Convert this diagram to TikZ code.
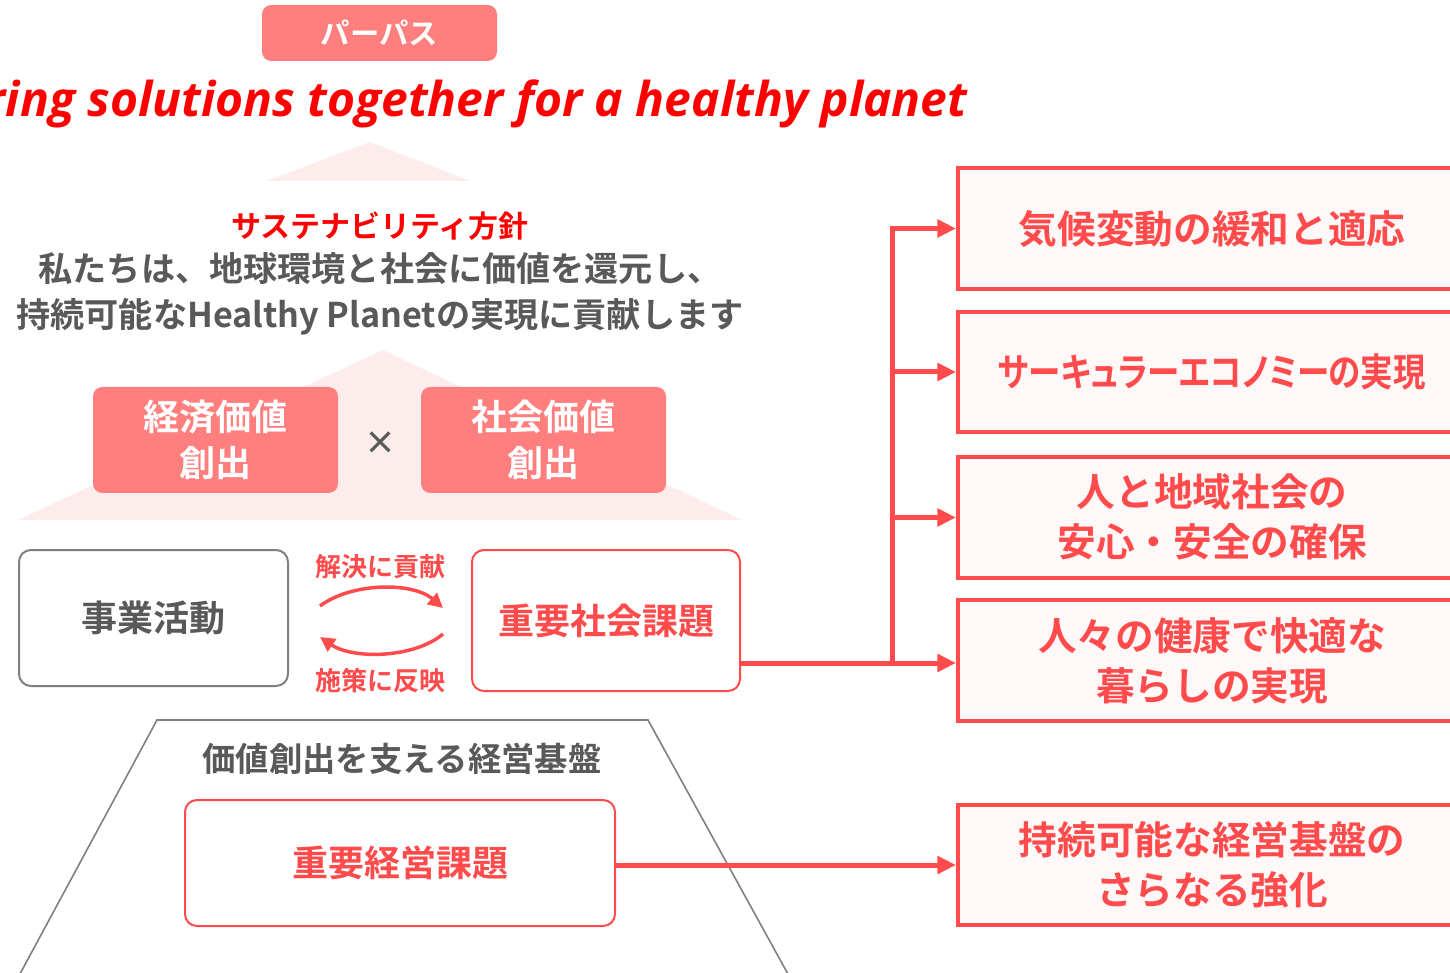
\documentclass[tikz,border=0pt]{standalone}
\usepackage{fontspec}
\setmainfont{Noto Sans CJK JP}[BoldFont=* Bold]
\newfontfamily\jpp{Noto Sans CJK JP}[RawFeature=+palt,BoldFont=* Bold]
\newfontfamily\enfont{Open Sans}
\usetikzlibrary{arrows.meta,fit}
\definecolor{myred}{HTML}{FF4B4B}
\definecolor{pinkbox}{HTML}{FF7F7F}
\definecolor{roof}{HTML}{FDECEC}
\definecolor{darkgr}{HTML}{595959}
\definecolor{linegr}{HTML}{808080}
\definecolor{paleFill}{HTML}{FFF8F8}
\definecolor{pureRed}{HTML}{FF0000}
\tikzset{
  pinkbtn/.style={fill=pinkbox, rounded corners=7pt, inner sep=0pt},
  pinktxt/.style={text=white, font=\bfseries\fontsize{27}{34}\selectfont, align=center},
  graybox/.style={draw=linegr, line width=1.5pt, rounded corners=9pt, inner sep=0pt},
  redbox/.style={draw=myred, line width=1.5pt, rounded corners=9pt, inner sep=0pt},
  boxtxt/.style={font=\bfseries\fontsize{27}{34}\selectfont},
  goalbox/.style={draw=myred, line width=3pt, fill=paleFill, inner sep=0pt},
  goaltxt/.style={text=myred, align=center, font=\bfseries\fontsize{29}{37.5}\selectfont},
  conn/.style={draw=myred, line width=3.75pt, -{Triangle[length=14pt,width=13pt]}},
  conn0/.style={draw=myred, line width=3.75pt},
  loop/.style={draw=myred, line width=2.6pt, -{Triangle[length=11pt,width=11pt]}},
  lbl/.style={text=myred, font=\bfseries\fontsize{19.5}{22}\selectfont},
}
\begin{document}
\begin{tikzpicture}[x=0.75pt,y=-0.75pt]
\useasboundingbox (0,0) rectangle (1450,973);
\clip (0,0) rectangle (1450,973);
% roofs
\fill[roof] (267,181) -- (370,142) -- (470,181) -- cycle;
\fill[roof] (18,520) -- (383,350) -- (742,520) -- cycle;
% header
\node[pinkbtn, fit={(262,5) (497,61)}] (purpose) {};
\node[pinktxt, font=\bfseries\fontsize{22}{26}\selectfont] (purposetxt) at (purpose.center) {パーパス};
\node[anchor=base east, text=pureRed, font=\enfont\bfseries\itshape\fontsize{36}{40}\selectfont] (title) at (972,117) {Bring solutions together for a healthy planet};
% policy
\node[text=pureRed, font=\bfseries\fontsize{22.5}{28}\selectfont] (policy) at (380,226) {サステナビリティ方針};
\node[text=darkgr, font=\bfseries\fontsize{25.6}{34.5}\selectfont, align=center] (policytxt) at (380,294) {私たちは、地球環境と社会に価値を還元し、\\持続可能なHealthy Planetの実現に貢献します};
% value boxes
\node[pinkbtn, fit={(93,387) (338,493)}] (econ) {};
\node[pinktxt] (econtxt) at (econ.center) {経済価値\\創出};
\node[pinkbtn, fit={(421,387) (666,493)}] (soc) {};
\node[pinktxt] (soctxt) at (soc.center) {社会価値\\創出};
\node[text=darkgr, font=\bfseries\fontsize{24}{26}\selectfont] (times) at (380,443) {×};
% activity
\node[graybox, fit={(19,550) (288,686)}] (jigyo) {};
\node[boxtxt, text=darkgr] (jigyotxt) at (jigyo.center) {事業活動};
\node[redbox, fit={(472,550) (740,691)}] (kadai) {};
\node[boxtxt, text=myred] (kadaitxt) at (kadai.center) {重要社会課題};
\node[lbl] (kaiketsu) at (380,567) {解決に貢献};
\node[lbl] (shisaku) at (380,681) {施策に反映};
\coordinate (a1) at (320,606);
\coordinate (a2) at (443,608);
\coordinate (b1) at (443,634);
\coordinate (b2) at (320,637);
\draw[loop] (a1) .. controls (352,582) and (413,582) .. (a2);
\draw[loop] (b1) .. controls (413,659) and (352,659) .. (b2);
% foundation
\draw[draw=linegr, line width=1.2pt] (14,985) -- (157,720) -- (648,720) -- (794,985);
\node[text=darkgr, font=\bfseries\fontsize{25}{30}\selectfont] (kiban) at (402,759) {価値創出を支える経営基盤};
\node[redbox, fit={(185,800) (615,926)}] (keiei) {};
\node[boxtxt, text=myred] (keieitxt) at (keiei.center) {重要経営課題};
% goals
\node[goalbox, fit={(958,168) (1468,289)}] (r1) {};
\node[goaltxt] (r1txt) at (1212,229) {気候変動の緩和と適応};
\node[goalbox, fit={(958,312) (1468,432)}] (r2) {};
\node[goaltxt] (r2txt) at (1212,372) {\scalebox{0.84}[1]{\jpp\bfseries サーキュラーエコノミーの実現}};
\node[goalbox, fit={(958,457) (1468,578)}] (r3) {};
\node[goaltxt] (r3txt) at (1212,517) {人と地域社会の\\安心・安全の確保};
\node[goalbox, fit={(958,600) (1468,721)}] (r4) {};
\node[goaltxt] (r4txt) at (1212,661) {人々の健康で快適な\\暮らしの実現};
\node[goalbox, fit={(958,805) (1468,925)}] (r5) {};
\node[goaltxt] (r5txt) at (1212,865) {持続可能な経営基盤の\\さらなる強化};
% connectors
\coordinate (j) at (892,663);
\draw[conn] (kadai.east |- j) -- (r4.west |- j);
\draw[conn] (j) |- (r1.west);
\draw[conn] (j) |- (r2.west);
\draw[conn] (j) |- (r3.west);
\draw[conn] (keiei.east |- r5.west) -- (r5.west);
\end{tikzpicture}
\end{document}
